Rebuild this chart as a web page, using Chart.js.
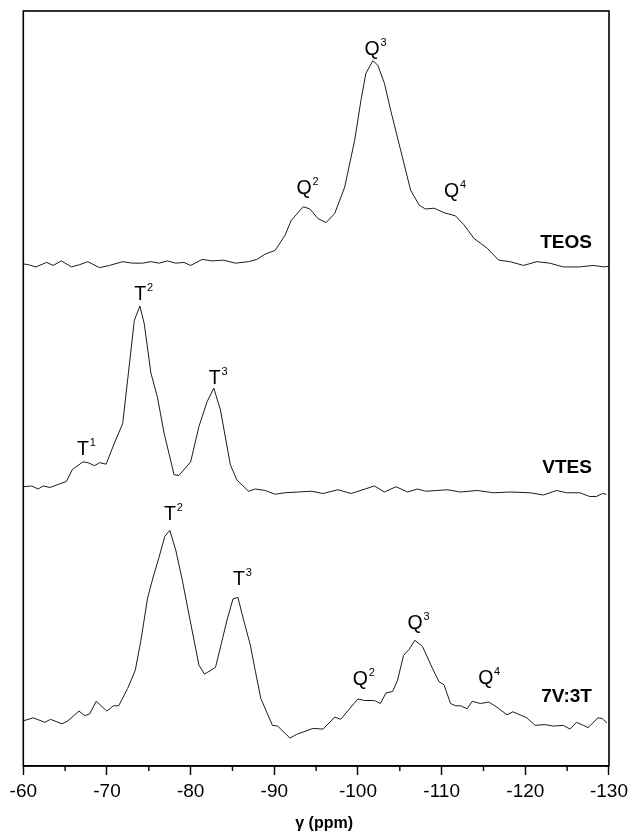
<!DOCTYPE html>
<html>
<head>
<meta charset="utf-8">
<script src="https://cdn.jsdelivr.net/npm/chart.js@4.4.1/dist/chart.umd.min.js"></script>
<style>
  html, body { margin: 0; padding: 0; background: #ffffff; }
  #wrap { width: 633px; height: 832px; }
</style>
</head>
<body>
<div id="wrap"><canvas id="c" width="633" height="832"></canvas></div>
<script>
// ---- Data (chemical shift in ppm, intensity in arbitrary stacked units) ----
const ppmTEOS = [-60.0,-60.59,-61.51,-62.78,-63.56,-64.56,-65.75,-66.73,-67.72,-69.11,-70.30,-71.88,-73.06,-74.25,-75.25,-76.24,-77.22,-78.22,-79.20,-80.00,-81.38,-82.57,-83.95,-85.34,-86.92,-87.91,-88.91,-90.10,-91.28,-92.03,-93.46,-94.25,-95.24,-96.19,-97.22,-98.41,-99.60,-100.35,-100.94,-101.77,-102.37,-103.16,-103.91,-105.10,-106.29,-107.32,-108.06,-109.10,-110.29,-111.63,-112.66,-113.85,-115.43,-116.82,-118.16,-119.79,-121.37,-122.92,-124.54,-126.48,-128.11,-129.45,-130.0];
const valTEOS = [66.7,66.6,66.3,66.9,66.5,67.1,66.3,66.6,67.0,66.2,66.5,67.0,66.8,66.8,67.0,66.8,67.1,66.8,66.9,66.5,67.3,67.1,67.2,66.8,67.0,67.3,68.0,68.5,70.5,72.5,74.3,74.0,72.7,72.2,73.4,76.9,83.1,88.4,92.0,93.7,93.1,90.7,87.1,81.8,76.5,74.5,74.0,74.1,73.5,73.1,71.9,70.1,68.8,67.2,67.0,66.5,67.0,66.8,66.3,66.3,66.5,66.3,66.4];

const ppmVTES = [-60.0,-61.0,-61.78,-62.38,-63.17,-64.16,-65.15,-65.87,-67.13,-67.72,-68.52,-69.11,-69.90,-70.89,-71.88,-72.47,-73.27,-73.94,-74.45,-75.25,-76.03,-76.83,-78.02,-78.61,-80.00,-80.99,-81.97,-82.77,-83.56,-84.75,-85.53,-86.92,-87.72,-88.91,-90.10,-91.28,-92.86,-94.44,-95.83,-97.61,-99.19,-101.97,-103.16,-104.54,-105.93,-107.11,-108.10,-109.49,-110.68,-112.26,-114.24,-116.22,-118.19,-120.57,-122.16,-123.74,-124.93,-126.51,-127.70,-128.49,-129.20,-129.68];
const valVTES = [37.1,37.2,36.8,37.2,37.0,37.4,37.8,39.4,40.4,40.3,39.9,40.3,40.1,42.9,45.5,51.3,59.2,61.1,58.8,52.2,49.0,44.2,38.7,38.6,40.4,45.1,48.4,50.2,47.3,40.0,38.0,36.5,36.8,36.6,36.1,36.3,36.4,36.5,36.2,36.7,36.2,37.2,36.4,37.1,36.4,36.8,36.5,36.6,36.7,36.4,36.6,36.3,36.4,36.3,36.0,36.6,36.3,36.3,35.8,35.8,36.2,36.1];

const ppm7V3T = [-60.0,-61.19,-62.58,-63.25,-64.63,-65.34,-66.65,-67.33,-67.92,-68.72,-69.98,-70.77,-71.40,-72.47,-73.38,-74.06,-74.85,-75.52,-76.24,-76.91,-77.51,-78.22,-79.00,-80.00,-80.99,-81.66,-82.97,-83.68,-84.35,-85.06,-85.65,-86.33,-87.13,-87.72,-88.38,-89.77,-90.40,-91.88,-92.66,-94.64,-95.83,-97.22,-97.93,-99.98,-100.78,-101.97,-102.68,-103.35,-104.14,-104.73,-105.45,-106.12,-106.79,-107.70,-108.89,-109.68,-110.28,-111.06,-111.66,-112.26,-113.05,-113.65,-114.63,-115.63,-116.62,-117.81,-118.52,-120.18,-121.17,-122.36,-123.36,-124.55,-125.34,-126.13,-126.93,-127.50,-128.69,-129.20,-129.76];
const val7V3T = [6.0,6.4,5.8,6.2,5.6,6.0,7.3,6.7,6.9,8.6,7.3,8.0,8.0,10.3,12.7,16.7,22.3,25.1,27.8,30.5,31.3,28.7,24.7,19.0,13.4,12.2,13.1,16.3,19.4,22.2,22.4,19.4,16.1,12.7,9.0,5.4,5.3,3.7,4.2,5.0,4.9,6.5,6.2,8.9,8.7,8.7,8.3,9.7,9.9,11.4,14.7,15.5,16.7,15.9,13.0,11.2,10.8,8.3,8.0,8.0,7.6,8.6,8.3,8.5,7.8,6.8,7.2,6.4,5.4,5.5,5.3,5.4,4.9,5.8,5.4,5.1,6.4,6.3,5.7];

const seriesNames = ['TEOS', 'VTES', '7V:3T'];
const xTicks = [-60, -70, -80, -90, -100, -110, -120, -130];
const xMinorTicks = [-65, -75, -85, -95, -105, -115, -125];
const xAxisTitle = 'γ (ppm)';

// Peak assignment labels: main letter, superscript, anchor (ppm, intensity)
const peakText = ['Q','Q','Q','T','T','T','T','T','Q','Q','Q'];
const peakSup  = ['2','3','4','1','2','3','2','3','2','3','4'];
const peakPpm  = [-92.66,-100.78,-110.28,-66.41,-73.27,-82.17,-76.83,-85.06,-99.39,-105.92,-114.36];
const peakVal  = [76.0,94.5,75.6,41.3,61.9,50.7,32.7,24.0,10.8,18.2,10.9];
// Sample name labels anchored (right edge) at this ppm / intensity
const nameVal  = [68.75, 38.87, 8.54];
const namePpm  = -127.96;

// ---- Chart ----
const FONT = '"Liberation Sans", Arial, Helvetica, sans-serif';
const toPts = (xs, ys) => xs.map((x, i) => ({ x: x, y: ys[i] }));

const decorPlugin = {
  id: 'decor',
  afterDraw(chart) {
    const ctx = chart.ctx;
    const a = chart.chartArea;
    const xs = chart.scales.x, ys = chart.scales.y;
    ctx.save();
    // frame
    ctx.strokeStyle = '#000';
    ctx.lineWidth = 1.6;
    ctx.strokeRect(a.left, a.top, a.right - a.left, a.bottom - a.top);
    // minor ticks
    ctx.lineWidth = 1.4;
    ctx.beginPath();
    xMinorTicks.forEach(v => {
      const px = xs.getPixelForValue(v);
      ctx.moveTo(px, a.bottom);
      ctx.lineTo(px, a.bottom + 5);
    });
    ctx.stroke();
    // peak labels
    ctx.fillStyle = '#000';
    ctx.textAlign = 'left';
    ctx.textBaseline = 'alphabetic';
    peakText.forEach((t, i) => {
      const px = xs.getPixelForValue(peakPpm[i]);
      const py = ys.getPixelForValue(peakVal[i]);
      ctx.font = '19.5px ' + FONT;
      ctx.fillText(t, px, py);
      const w = ctx.measureText(t).width;
      ctx.font = '11px ' + FONT;
      ctx.fillText(peakSup[i], px + w + 0.8, py - 9);
    });
    // sample names
    ctx.font = 'bold 19px ' + FONT;
    ctx.textAlign = 'right';
    seriesNames.forEach((n, i) => {
      ctx.fillText(n, xs.getPixelForValue(namePpm), ys.getPixelForValue(nameVal[i]));
    });
    // axis title
    ctx.font = 'bold 16px ' + FONT;
    ctx.textAlign = 'center';
    ctx.fillText(xAxisTitle, (a.left + a.right) / 2 + 8, 828);
    ctx.restore();
  }
};

const lineStyle = { borderColor: '#1c1c1c', borderWidth: 1, pointRadius: 0, fill: false, tension: 0 };

new Chart(document.getElementById('c'), {
  type: 'line',
  data: {
    datasets: [
      Object.assign({ label: seriesNames[0], data: toPts(ppmTEOS, valTEOS) }, lineStyle),
      Object.assign({ label: seriesNames[1], data: toPts(ppmVTES, valVTES) }, lineStyle),
      Object.assign({ label: seriesNames[2], data: toPts(ppm7V3T, val7V3T) }, lineStyle)
    ]
  },
  options: {
    responsive: false,
    animation: false,
    devicePixelRatio: 1,
    layout: { padding: { left: 23.3, right: 20.3, top: 11, bottom: 0 } },
    plugins: { legend: { display: false }, tooltip: { enabled: false }, title: { display: false } },
    scales: {
      x: {
        type: 'linear',
        min: -130,
        max: -60,
        reverse: true,
        afterFit(s) { s.height = 66; },
        afterBuildTicks(s) { s.ticks = xTicks.map(v => ({ value: v })); },
        ticks: {
          color: '#000',
          font: { family: FONT, size: 19 },
          padding: 5,
          maxRotation: 0,
          autoSkip: false,
          callback: v => String(v)
        },
        grid: { drawOnChartArea: false, drawTicks: true, tickLength: 9, tickColor: '#000', tickWidth: 1.4 },
        border: { display: true, color: '#000', width: 1.6 }
      },
      y: {
        display: false,
        min: 0,
        max: 100.3
      }
    }
  },
  plugins: [decorPlugin]
});
</script>
</body>
</html>
